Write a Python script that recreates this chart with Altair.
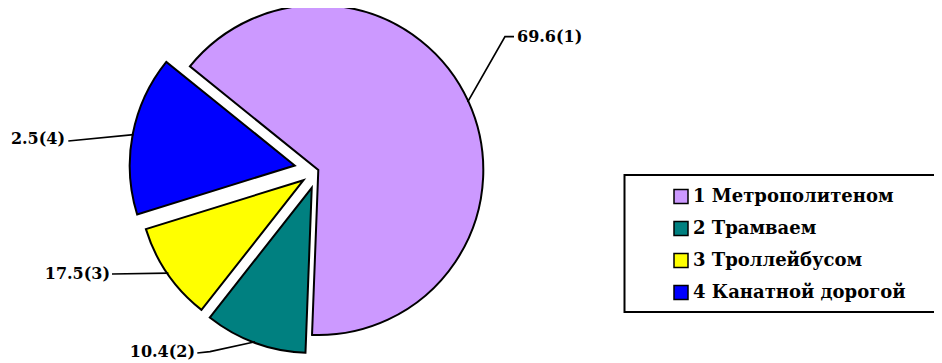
import math
import altair as alt
import pandas as pd

# ---- data ----
CATEGORIES = ["1 Метрополитеном", "2 Трамваем", "3 Троллейбусом", "4 Канатной дорогой"]
SHARES = [64.8, 10.0, 9.6, 15.6]          # drawn slice sizes (% of circle)
LABELS = ["69.6(1)", "10.4(2)", "17.5(3)", "2.5(4)"]
COLORS = ["#cc99ff", "#008080", "#ffff00", "#0000ff"]

# ---- layout / style (plot coordinates) ----
CX, CY = 310.3, 162.0
RADIUS = 165
START_DEG = -51.1
EXPLODE = [0, 19, 18, 24]
LEADER_ELBOW = [(497, 28.7), (202, 343.7), (104, 266), (60.3, 133)]
LEADER_END = [(506, 28.7), (189.3, 345), (104, 266), (60.3, 133)]
LABEL_ANCHOR = [(509, 28.5), (187, 344), (102, 266), (57, 130.5)]
LABEL_ALIGN = ["left", "right", "right", "right"]
FONT = "DejaVu Serif"

total = sum(SHARES)
rows, line_rows, text_rows = [], [], []
acc = 0.0
for i, (cat, v) in enumerate(zip(CATEGORIES, SHARES)):
    t0, t1 = acc, acc + v
    acc = t1
    mid = math.radians(START_DEG + 360.0 * (t0 + v / 2) / total)
    cx = CX + EXPLODE[i] * math.sin(mid)
    cy = CY - EXPLODE[i] * math.cos(mid)
    rows.append({"cat": cat, "t0": t0, "t1": t1, "cx": cx, "cy": cy})
    ax = cx + (RADIUS - 1) * math.sin(mid)
    ay = cy - (RADIUS - 1) * math.cos(mid)
    pts = [(ax, ay), LEADER_ELBOW[i], LEADER_END[i]]
    for k, (px, py) in enumerate(pts):
        line_rows.append({"cat": cat, "k": k, "px": px, "py": py})
    text_rows.append({"cat": cat, "label": LABELS[i],
                      "tx": LABEL_ANCHOR[i][0], "ty": LABEL_ANCHOR[i][1],
                      "al": LABEL_ALIGN[i]})

slices = pd.DataFrame(rows)
leaders = pd.DataFrame(line_rows)
texts = pd.DataFrame(text_rows)

start_rad = math.radians(START_DEG)

box = alt.Chart(pd.DataFrame({"a": [0]})).mark_rect(
    fill="white", stroke="black", strokeWidth=2
).encode(
    x=alt.value(616.5), x2=alt.value(933), y=alt.value(167), y2=alt.value(304)
)

arcs = alt.Chart(slices).mark_arc(
    radius=RADIUS, stroke="black", strokeWidth=2, strokeJoin="miter"
).encode(
    x=alt.X("cx:Q", scale=None),
    y=alt.Y("cy:Q", scale=None),
    theta=alt.Theta("t0:Q", stack=None,
                    scale=alt.Scale(domain=[0, total],
                                    range=[start_rad, start_rad + 2 * math.pi])),
    theta2="t1:Q",
    color=alt.Color(
        "cat:N",
        scale=alt.Scale(domain=CATEGORIES, range=COLORS),
        legend=alt.Legend(
            title=None, orient="none", legendX=664, legendY=179.5,
            symbolType="square", symbolSize=196,
            symbolStrokeColor="black", symbolStrokeWidth=1.5,
            labelFont=FONT, labelFontSize=18, labelFontWeight="bold",
            labelColor="black", labelOffset=3, rowPadding=12,
            padding=0, labelLimit=400,
        ),
    ),
)

lines = alt.Chart(leaders).mark_line(color="black", strokeWidth=1.7).encode(
    x=alt.X("px:Q", scale=None),
    y=alt.Y("py:Q", scale=None),
    detail="cat:N",
    order="k:Q",
)

labels_left = alt.Chart(texts).transform_filter("datum.al == 'left'").mark_text(
    font=FONT, fontSize=16, fontWeight="bold", color="black",
    align="left", baseline="middle"
).encode(x=alt.X("tx:Q", scale=None), y=alt.Y("ty:Q", scale=None), text="label:N")

labels_right = alt.Chart(texts).transform_filter("datum.al == 'right'").mark_text(
    font=FONT, fontSize=16, fontWeight="bold", color="black",
    align="right", baseline="middle"
).encode(x=alt.X("tx:Q", scale=None), y=alt.Y("ty:Q", scale=None), text="label:N")

chart = alt.layer(box, arcs, lines, labels_left, labels_right).properties(
    width=926, height=353, padding=0, autosize="none"
).configure_view(stroke=None)

chart.save("out.html", embed_options={"renderer": "svg", "actions": False})
